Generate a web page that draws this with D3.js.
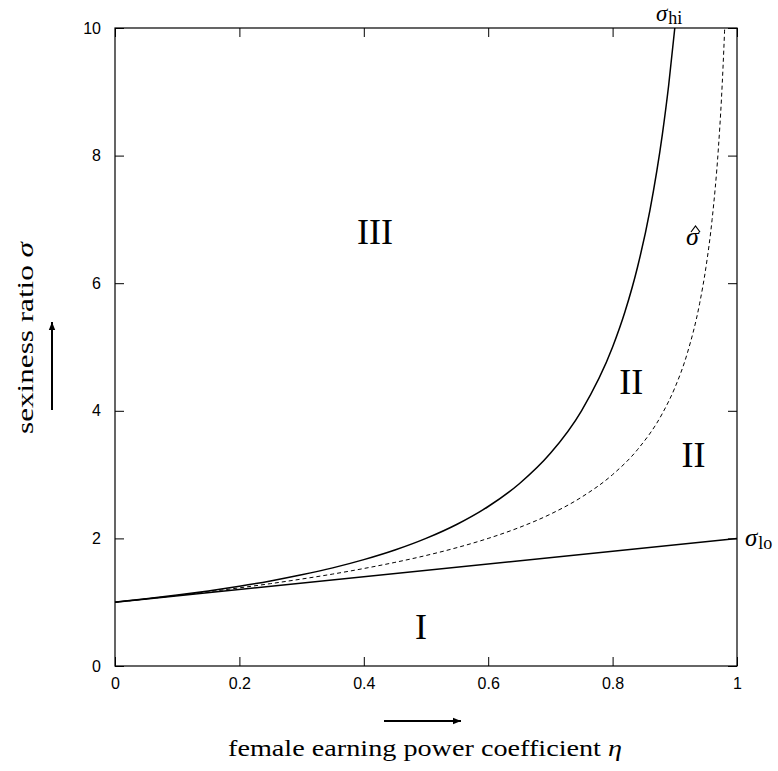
<!DOCTYPE html>
<html>
<head>
<meta charset="utf-8">
<script src="https://cdn.jsdelivr.net/npm/d3@7"></script>
<style>
  body { margin: 0; background: #fff; }
  .tick text { font-family: "Liberation Sans", Arial, sans-serif; font-size: 16px; }
  .serif { font-family: "Liberation Serif", "Times New Roman", serif; }
</style>
</head>
<body>
<div id="chart"></div>
<script>
// Data
const xTicks = [0, 0.2, 0.4, 0.6, 0.8, 1];
const xTickLabels = ["0", "0.2", "0.4", "0.6", "0.8", "1"];
const yTicks = [0, 2, 4, 6, 8, 10];
const yTickLabels = ["0", "2", "4", "6", "8", "10"];

// sigma_lo: straight line
const etaLo = [0, 1];
const sigmaLo = [1, 2];

// sigma_hi: upper solid curve
const etaHi = [0, 0.05, 0.1, 0.15, 0.2, 0.25, 0.3, 0.35, 0.4, 0.45, 0.5, 0.55, 0.6, 0.65, 0.7, 0.75, 0.8, 0.82, 0.84, 0.86, 0.88, 0.89, 0.9];
const sigmaHi = [1, 1.053, 1.111, 1.176, 1.25, 1.333, 1.429, 1.538, 1.667, 1.818, 2, 2.222, 2.5, 2.857, 3.333, 4, 5, 5.556, 6.25, 7.143, 8.333, 9.091, 10];

// sigma hat: dashed curve
const etaHat = [0, 0.05, 0.1, 0.15, 0.2, 0.25, 0.3, 0.35, 0.4, 0.45, 0.5, 0.55, 0.6, 0.65, 0.7, 0.75, 0.8, 0.84, 0.88, 0.9, 0.92, 0.94, 0.95, 0.96, 0.97, 0.975, 0.98, 0.9802];
const sigmaHat = [1, 1.051, 1.106, 1.163, 1.225, 1.291, 1.363, 1.441, 1.528, 1.624, 1.732, 1.856, 2, 2.171, 2.38, 2.646, 3, 3.391, 3.958, 4.359, 4.899, 5.686, 6.245, 7, 8.103, 8.888, 9.95, 10];

// Region labels
const regionLabels = ["III", "II", "II", "I"];
const regionEta = [0.418, 0.83, 0.93, 0.492];
const regionSigma = [6.75, 4.4, 3.25, 0.55];

const margin = { top: 28, right: 41, bottom: 105, left: 115 },
      width = 778 - margin.left - margin.right,
      height = 771 - margin.top - margin.bottom;

const svg = d3.select("#chart")
    .append("svg")
    .attr("width", 778)
    .attr("height", 771);

const g = svg.append("g")
    .attr("transform", `translate(${margin.left},${margin.top})`);

const x = d3.scaleLinear().domain([0, 1]).range([0, width]);
const y = d3.scaleLinear().domain([0, 10]).range([height, 0]);

// arrow marker
svg.append("defs").append("marker")
    .attr("id", "arrow")
    .attr("viewBox", "0 0 10 10")
    .attr("refX", 10).attr("refY", 5)
    .attr("markerWidth", 4).attr("markerHeight", 4)
    .attr("markerUnits", "strokeWidth")
    .attr("orient", "auto")
    .append("path")
    .attr("d", "M0,1 L10,5 L0,9 z")
    .attr("fill", "#000");

// axes with inward ticks, mirrored
const tickLen = 9;
g.append("g")
    .attr("transform", `translate(0,${height})`)
    .call(d3.axisBottom(x).tickValues(xTicks).tickFormat((d, i) => xTickLabels[i]).tickSizeInner(-tickLen).tickSizeOuter(0).tickPadding(12));
g.append("g")
    .call(d3.axisTop(x).tickValues(xTicks).tickFormat("").tickSizeInner(-tickLen).tickSizeOuter(0));
g.append("g")
    .call(d3.axisLeft(y).tickValues(yTicks).tickFormat((d, i) => yTickLabels[i]).tickSizeInner(-tickLen).tickSizeOuter(0).tickPadding(14));
g.append("g")
    .attr("transform", `translate(${width},0)`)
    .call(d3.axisRight(y).tickValues(yTicks).tickFormat("").tickSizeInner(-tickLen).tickSizeOuter(0));

g.selectAll(".domain").remove();
g.selectAll(".tick line").attr("stroke", "#000").attr("stroke-width", 1);

// frame
g.append("rect")
    .attr("x", 0).attr("y", 0)
    .attr("width", width).attr("height", height)
    .attr("fill", "none")
    .attr("stroke", "#000")
    .attr("stroke-width", 1.2);

// curves
const line = d3.line()
    .x(d => x(d[0]))
    .y(d => y(d[1]))
    .curve(d3.curveMonotoneX);

g.append("path")
    .datum(etaLo.map((e, i) => [e, sigmaLo[i]]))
    .attr("fill", "none").attr("stroke", "#000").attr("stroke-width", 1.5)
    .attr("d", line);

g.append("path")
    .datum(etaHi.map((e, i) => [e, sigmaHi[i]]))
    .attr("fill", "none").attr("stroke", "#000").attr("stroke-width", 1.5)
    .attr("d", line);

g.append("path")
    .datum(etaHat.map((e, i) => [e, sigmaHat[i]]))
    .attr("fill", "none").attr("stroke", "#000").attr("stroke-width", 1)
    .attr("stroke-dasharray", "4,3")
    .attr("d", line);

// region labels
regionLabels.forEach((lab, i) => {
    g.append("text")
        .attr("class", "serif")
        .attr("x", x(regionEta[i]))
        .attr("y", y(regionSigma[i]))
        .attr("text-anchor", "middle")
        .attr("dominant-baseline", "middle")
        .style("font-size", "36px")
        .text(lab);
});

// sigma hat label (sigma with a hat drawn above)
svg.append("text")
    .attr("class", "serif")
    .attr("x", 686)
    .attr("y", 245)
    .style("font-size", "26px")
    .style("font-style", "italic")
    .text("σ");
svg.append("path")
    .attr("d", "M691,232 L695.5,226 L700,232")
    .attr("fill", "none")
    .attr("stroke", "#000")
    .attr("stroke-width", 1.2);

// sigma_hi label
const hi = svg.append("text")
    .attr("class", "serif")
    .attr("x", 656)
    .attr("y", 21)
    .style("font-size", "23px");
hi.append("tspan").style("font-style", "italic").text("σ");
hi.append("tspan").attr("dy", 3).attr("dx", 1).style("font-size", "18px").text("hi");

// sigma_lo label
const lo = svg.append("text")
    .attr("class", "serif")
    .attr("x", 745)
    .attr("y", 546)
    .style("font-size", "25px");
lo.append("tspan").style("font-style", "italic").text("σ");
lo.append("tspan").attr("dy", 3).attr("dx", 1).style("font-size", "18px").text("lo");

// x label and arrow
svg.append("text")
    .attr("class", "serif")
    .attr("x", 228)
    .attr("y", 756)
    .attr("textLength", 394)
    .attr("lengthAdjust", "spacingAndGlyphs")
    .style("font-size", "24px")
    .html('female earning power coefficient <tspan font-style="italic">η</tspan>');

svg.append("line")
    .attr("x1", 384).attr("x2", 461)
    .attr("y1", 721).attr("y2", 721)
    .attr("stroke", "#000").attr("stroke-width", 2)
    .attr("marker-end", "url(#arrow)");

// y label and arrow
svg.append("text")
    .attr("class", "serif")
    .attr("transform", "translate(33,434) rotate(-90)")
    .attr("textLength", 192)
    .attr("lengthAdjust", "spacingAndGlyphs")
    .style("font-size", "24px")
    .html('sexiness ratio <tspan font-style="italic">σ</tspan>');

svg.append("line")
    .attr("x1", 52).attr("x2", 52)
    .attr("y1", 410).attr("y2", 322)
    .attr("stroke", "#000").attr("stroke-width", 2)
    .attr("marker-end", "url(#arrow)");
</script>
</body>
</html>
